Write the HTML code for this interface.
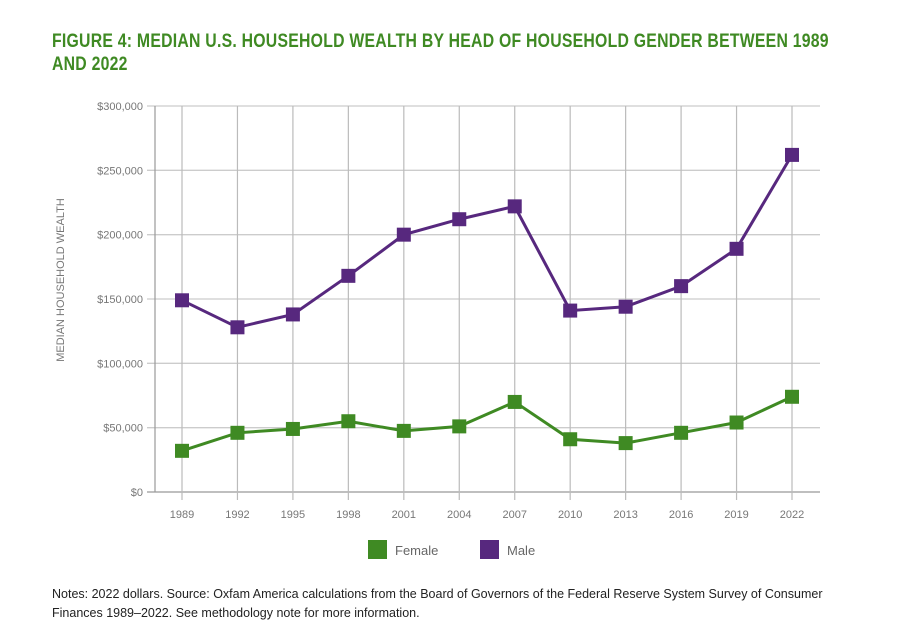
<!DOCTYPE html>
<html><head><meta charset="utf-8"><style>
body{margin:0;width:908px;height:638px;background:#fff;font-family:"Liberation Sans",sans-serif;overflow:hidden;position:relative}
#title{position:absolute;left:52px;top:30px;width:1100px;color:#3f8a23;font-weight:bold;font-size:19.5px;line-height:23px;transform:scaleX(0.81);transform-origin:0 0;letter-spacing:0.3px}
#notes{position:absolute;left:52px;top:585px;font-size:12.5px;line-height:19px;color:#222}
svg{position:absolute;left:0;top:0}
</style></head><body>
<div id="title">FIGURE 4: MEDIAN U.S. HOUSEHOLD WEALTH BY HEAD OF HOUSEHOLD GENDER BETWEEN 1989<br>AND 2022</div>
<svg id="chart" width="908" height="638"></svg>
<div id="notes">Notes: 2022 dollars. Source: Oxfam America calculations from the Board of Governors of the Federal Reserve System Survey of Consumer<br>Finances 1989–2022. See methodology note for more information.</div>
<script>
const years=["1989","1992","1995","1998","2001","2004","2007","2010","2013","2016","2019","2022"];
const female=[32000,46000,49000,55000,47500,51000,70000,41000,38000,46000,54000,74000];
const male=[149000,128000,138000,168000,200000,212000,222000,141000,144000,160000,189000,262000];
const yTicks=[0,50000,100000,150000,200000,250000,300000];
const yTickLabels=["$0","$50,000","$100,000","$150,000","$200,000","$250,000","$300,000"];
const NS="http://www.w3.org/2000/svg",svg=document.getElementById('chart');
const L=155,R=820,T=106,B=492;
const x=i=>182+i*(792-182)/(years.length-1);
const y=v=>B-v/300000*(B-T);
function mk(t,a,p){const e=document.createElementNS(NS,t);for(const k in a)e.setAttribute(k,a[k]);(p||svg).appendChild(e);return e;}
yTicks.forEach((v,i)=>{
 const g=mk('line',{x1:147,x2:R,y1:y(v),y2:y(v),stroke:i==0?'#999':'#ccc','stroke-width':1.3});
 
 
 const t=mk('text',{x:143,y:y(v)+4,'text-anchor':'end','font-size':11,fill:'#777'});t.textContent=yTickLabels[i];
 
 
});
years.forEach((yr,i)=>{
 const g=mk('line',{x1:x(i),x2:x(i),y1:T,y2:500,stroke:'#bbb','stroke-width':1.2});
 
 
 const t=mk('text',{x:x(i),y:518,'text-anchor':'middle','font-size':11,fill:'#777'});t.textContent=yr;
 
 
});
mk('line',{x1:L,x2:L,y1:T,y2:B,stroke:'#999','stroke-width':1.2});
const yt=mk('text',{x:0,y:0,transform:'translate(64,280) rotate(-90)','text-anchor':'middle','font-size':11,fill:'#777'});yt.textContent='MEDIAN HOUSEHOLD WEALTH';


function series(vals,color,name){
 const p=mk('polyline',{points:vals.map((v,i)=>x(i)+','+y(v)).join(' '),fill:'none',stroke:color,'stroke-width':3});
 
 
 vals.forEach((v,i)=>{const r=mk('rect',{x:x(i)-7,y:y(v)-7,width:14,height:14,fill:color});
 
 });
}
series(male,'#57287e','male');
series(female,'#3f8a23','female');
[['Female','#3f8a23',368],['Male','#57287e',480]].forEach(([n,c,lx])=>{
 const r=mk('rect',{x:lx,y:540,width:19,height:19,fill:c});
 
 
 const t=mk('text',{x:lx+27,y:555,'font-size':13,fill:'#666'});t.textContent=n;
 
 
});
</script>
</body></html>
